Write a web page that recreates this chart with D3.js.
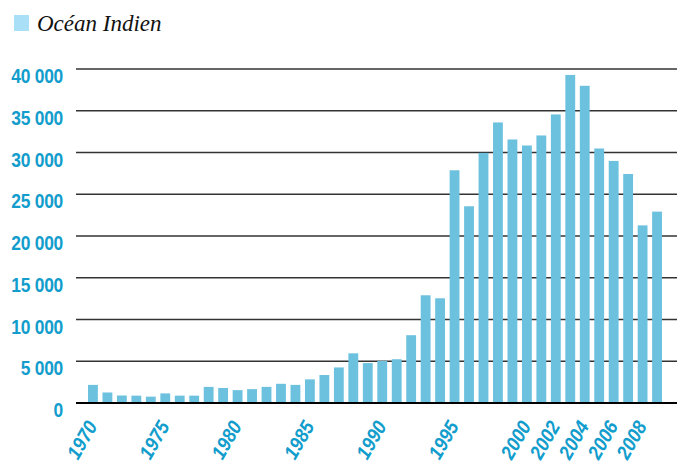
<!DOCTYPE html>
<html>
<head>
<meta charset="utf-8">
<script src="https://cdn.jsdelivr.net/npm/d3@7"></script>
<style>
  html, body { margin: 0; padding: 0; background: #fff; }
  svg { display: block; }
</style>
</head>
<body>
<svg id="chart" width="677" height="466"></svg>
<script>
const years = d3.range(1970, 2010);
const values = [
  2170, 1260, 900, 880, 760, 1150, 880, 880, 1930, 1800,
  1540, 1660, 1930, 2300, 2170, 2830, 3350, 4260, 5950, 4780,
  5040, 5240, 8120, 12900, 12540, 27870, 23560, 29950, 33600, 31560,
  30840, 32040, 34560, 39290, 37990, 30480, 28990, 27430, 21270, 22920
];
const yTicks = [0, 5000, 10000, 15000, 20000, 25000, 30000, 35000, 40000];
const xTickLabels = ["1970", "1975", "1980", "1985", "1990", "1995", "2000", "2002", "2004", "2006", "2008"];
const legendLabel = "Océan Indien";

const svg = d3.select("#chart");
const blue = "#129dcc";

const x = d3.scaleBand()
  .domain(years.map(String))
  .range([86, 664])
  .paddingInner(0.32)
  .paddingOuter(0.14);

const y = d3.scaleLinear().domain([0, 40000]).range([403, 69]);

// gridlines
svg.append("g").selectAll("line")
  .data(yTicks.filter(d => d > 0))
  .join("line")
  .attr("x1", 76).attr("x2", 677)
  .attr("y1", d => y(d)).attr("y2", d => y(d))
  .attr("stroke", "#333").attr("stroke-width", 1.4);

// bars
svg.append("g").selectAll("rect")
  .data(years.map((yr, i) => ({ yr: String(yr), v: values[i] })))
  .join("rect")
  .attr("x", d => x(d.yr))
  .attr("width", x.bandwidth())
  .attr("y", d => y(d.v))
  .attr("height", d => y(0) - 1 - y(d.v))
  .attr("fill", "#6cc1df");

// baseline
svg.append("line")
  .attr("x1", 76).attr("x2", 677)
  .attr("y1", y(0)).attr("y2", y(0))
  .attr("stroke", "#000").attr("stroke-width", 2);

const font = "'Liberation Sans', Arial, sans-serif";

// y axis labels (condensed look)
const fmt = d => d === 0 ? "0" : d3.format(",")(d).replace(",", " ");
svg.append("g").selectAll("text")
  .data(yTicks)
  .join("text")
  .attr("transform", d => `translate(63,${y(d) + 14}) scale(0.85,1)`)
  .attr("text-anchor", "end")
  .attr("font-family", font)
  .attr("font-weight", "bold")
  .attr("font-size", 20.5)
  .attr("letter-spacing", -0.3)
  .attr("fill", blue)
  .text(fmt);

// x axis labels
svg.append("g").selectAll("text")
  .data(xTickLabels)
  .join("text")
  .attr("transform", d => `translate(${x(d) + x.bandwidth() / 2 + 5},426) rotate(-60) scale(0.9,1)`)
  .attr("text-anchor", "end")
  .attr("font-family", font)
  .attr("font-weight", "bold")
  .attr("font-style", "italic")
  .attr("font-size", 20)
  .attr("fill", blue)
  .text(d => d);

// legend
svg.append("rect")
  .attr("x", 14).attr("y", 15).attr("width", 15).attr("height", 16)
  .attr("fill", "#aadff8");
svg.append("text")
  .attr("x", 37).attr("y", 31)
  .attr("font-family", "'Liberation Serif', 'Times New Roman', serif")
  .attr("font-style", "italic")
  .attr("font-size", 23)
  .attr("fill", "#111")
  .text(legendLabel);
</script>
</body>
</html>
